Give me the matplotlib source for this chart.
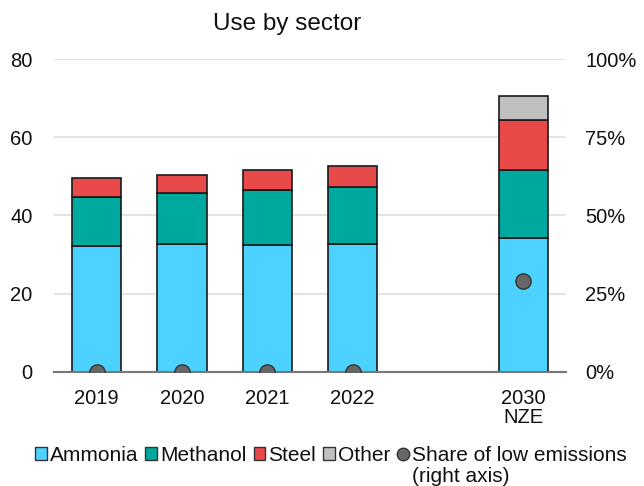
import numpy as np
import matplotlib
matplotlib.use("Agg")
from matplotlib import pyplot as plt
from matplotlib.lines import Line2D
from matplotlib.patches import Patch

plt.rcParams['font.family'] = ['Liberation Sans', 'DejaVu Sans']

# datos (Mt H2)
categorias = ['2019', '2020', '2021', '2022', '2030\nNZE']
posiciones = [0, 1, 2, 3, 5]
amoniaco = [32.1, 32.6, 32.5, 32.6, 34.2]
metanol = [12.7, 13.1, 14.1, 14.8, 17.4]
acero = [4.9, 4.6, 5.1, 5.2, 12.8]
otros = [0, 0, 0, 0, 6.1]
cuota_bajas = [0.0, 0.0, 0.0, 0.0, 0.29]

colores = {'Ammonia': '#4dd2ff', 'Methanol': '#00a99d', 'Steel': '#e84a4a', 'Other': '#c0c0c0'}
series = [('Ammonia', amoniaco), ('Methanol', metanol), ('Steel', acero), ('Other', otros)]

fig = plt.figure(figsize=(6.44, 4.86), dpi=100)
ax = fig.add_axes([0.0839, 0.2346, 0.795, 0.644])

base = np.zeros(len(posiciones))
for nombre, valores in series:
    v = np.array(valores)
    mask = v > 0
    ax.bar(np.array(posiciones)[mask], v[mask], width=0.58, bottom=base[mask],
           color=colores[nombre], edgecolor='#1a1a1a', linewidth=1.2, zorder=3)
    base = base + v

ax.set_xlim(-0.5, 5.5)
ax.set_ylim(0, 80)
ax.set_yticks([0, 20, 40, 60, 80])
ax.set_xticks(posiciones)
ax.set_xticklabels(categorias, linespacing=1.0)
ax.tick_params(axis='both', length=0, labelsize=14.5, labelcolor='#111111')
ax.tick_params(axis='y', pad=15.5)
ax.tick_params(axis='x', pad=12)
ax.grid(axis='y', color='#e3e3e3', linewidth=1.5, zorder=0)
for s in ['top', 'right', 'left']:
    ax.spines[s].set_visible(False)
ax.spines['bottom'].set_color('#777777')
ax.spines['bottom'].set_linewidth(1.5)
ax.spines['bottom'].set_zorder(4)

ax2 = ax.twinx()
ax2.set_ylim(0, 1)
ax2.set_yticks([0, 0.25, 0.5, 0.75, 1.0])
ax2.set_yticklabels(['0%', '25%', '50%', '75%', '100%'])
ax2.tick_params(axis='y', length=0, labelsize=14.5, labelcolor='#111111', pad=14)
for s in ax2.spines.values():
    s.set_visible(False)
ax2.plot(posiciones, cuota_bajas, linestyle='none', marker='o', markersize=11,
         markerfacecolor='#666666', markeredgecolor='#333333', markeredgewidth=1, zorder=5)

ax.set_title('Use by sector', fontsize=17.5, x=0.455, pad=21, color='#111111')

handles = [Patch(facecolor=colores[n], edgecolor='#333333', linewidth=1) for n, _ in series]
handles.append(Line2D([], [], linestyle='none', marker='o', markersize=9,
                      markerfacecolor='#666666', markeredgecolor='#333333'))
labels = ['Ammonia', 'Methanol', 'Steel', 'Other', 'Share of low emissions']
leg = fig.legend(handles, labels, loc='upper center', bbox_to_anchor=(0.514, 0.083), ncol=5,
                 frameon=False, fontsize=15, handlelength=0.55, handleheight=0.55,
                 handletextpad=0.15, columnspacing=0.35, borderaxespad=0, borderpad=0)
for t in leg.get_texts():
    t.set_color('#111111')

# segunda linea de la ultima etiqueta
fig.canvas.draw()
bb = leg.get_texts()[-1].get_window_extent().transformed(fig.transFigure.inverted())
fig.text(bb.x0, bb.y0 - 0.004, '(right axis)', fontsize=15, color='#111111', va='top', ha='left')

fig.savefig('out.png', dpi=100)
